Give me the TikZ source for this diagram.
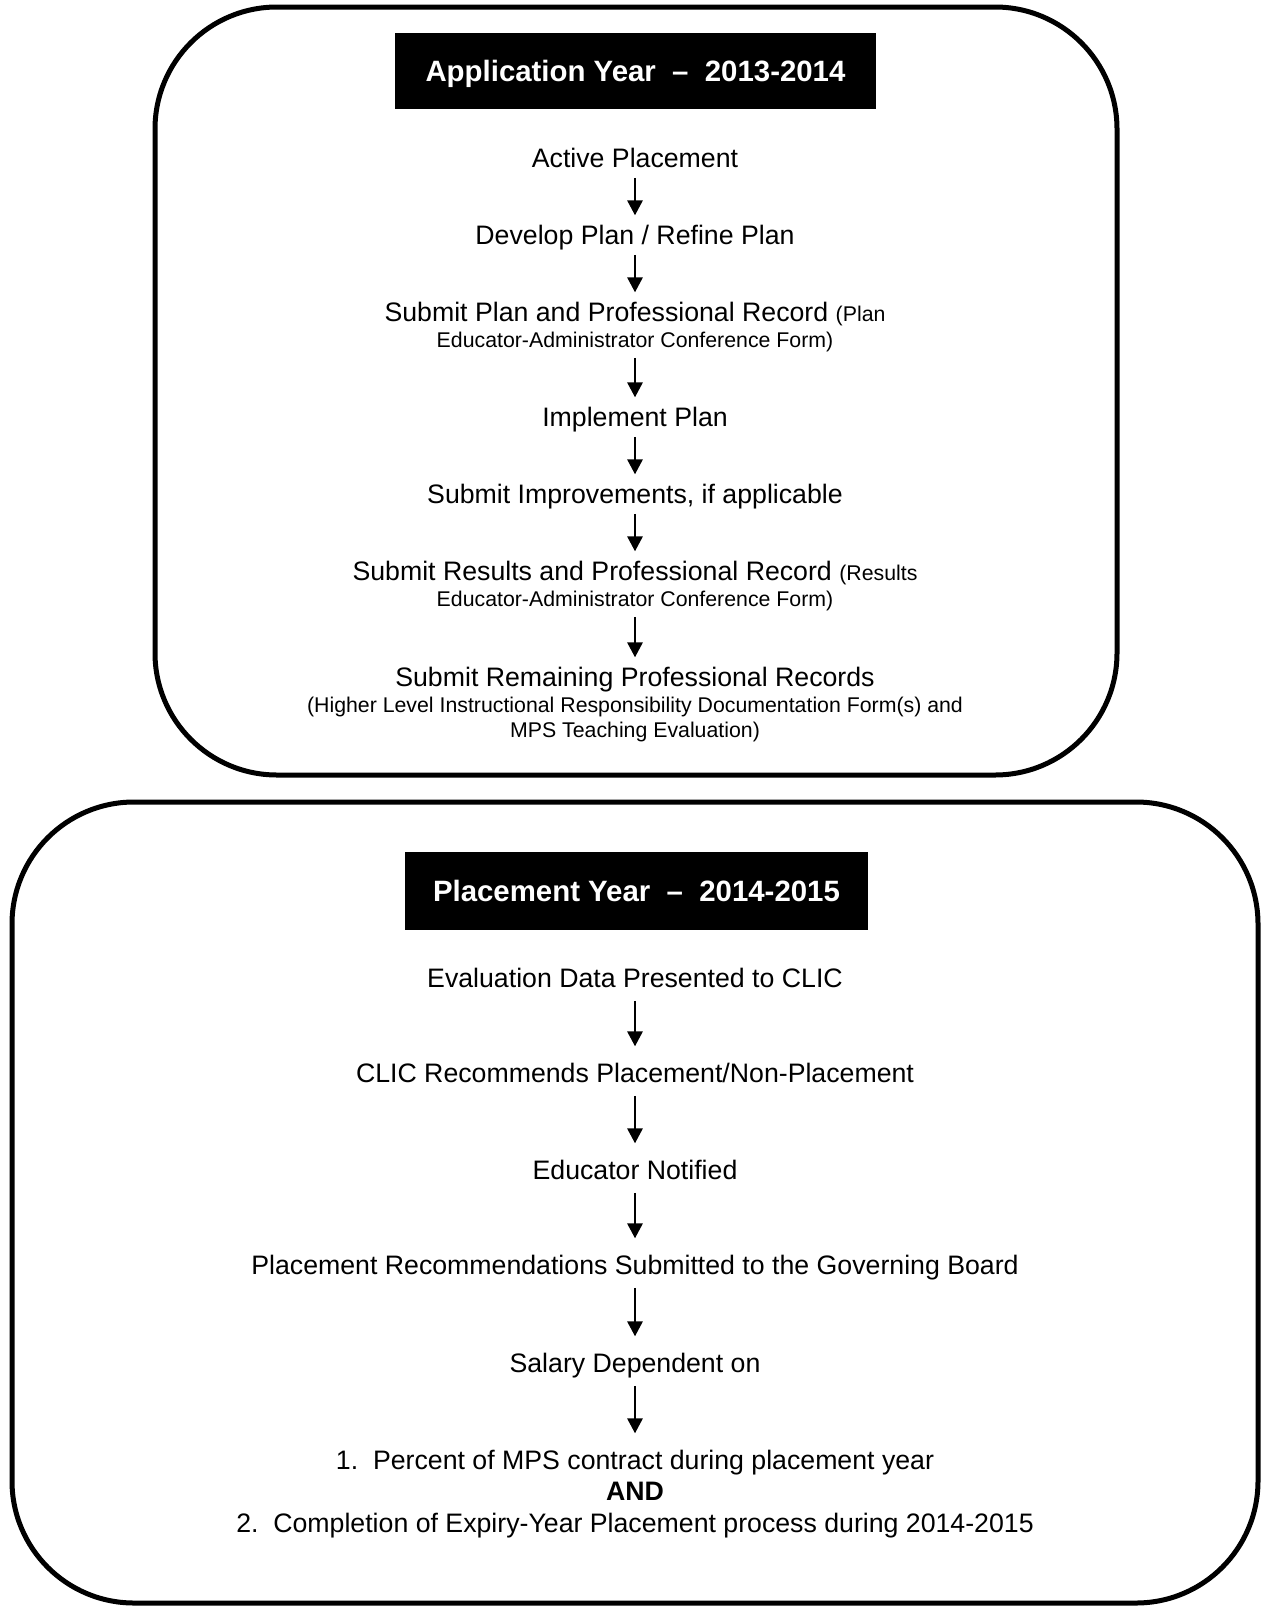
\documentclass[tikz,border=0pt]{standalone}
\usepackage{fontspec}
\setmainfont{Liberation Sans}
\usetikzlibrary{arrows.meta}
\tikzset{
  container/.style={line width=5pt, rounded corners=122pt},
  titlebox/.style={fill=black, text=white, inner sep=0pt, minimum width=481pt, minimum height=76pt,
    text height=21pt, text depth=0pt, font=\fontsize{29.4}{34}\selectfont\bfseries},
  bodytxt/.style={inner sep=0pt, text height=19.1pt, text depth=0pt, font=\fontsize{26.7}{32}\selectfont},
  smalltxt/.style={inner sep=0pt, text height=15.25pt, text depth=0pt, font=\fontsize{21.3}{25}\selectfont},
  flowarrow/.style={line width=1.8pt, -{Triangle[length=15pt,width=15.5pt]}},
  toparrow/.style={flowarrow, shorten <=10pt, shorten >=10pt},
  botarrow/.style={flowarrow, shorten <=13pt, shorten >=17pt},
}
\newcommand{\smalltext}[1]{{\fontsize{21.3}{25}\selectfont #1}}
\begin{document}
\begin{tikzpicture}[x=1pt,y=-1pt]
\fill[white] (0,0) rectangle (1263,1606);
\useasboundingbox (0,0) rectangle (1263,1606);

% containers
\draw[container] (155,7) rectangle (1117,775);
\draw[container] (12,802) rectangle (1258,1603);

% application year
\node[titlebox, minimum width=481pt] (t1) at (635.5,71) {Application Year~~–~~2013-2014};
\node[bodytxt] (a1) at (635,158) {Active Placement};
\node[bodytxt] (a2) at (635,235) {Develop Plan / Refine Plan};
\node[bodytxt] (a3) at (635,312) {Submit Plan and Professional Record \smalltext{(Plan}};
\node[smalltxt] (a3b) at (635,340) {Educator-Administrator Conference Form)};
\node[bodytxt] (a4) at (635,417) {Implement Plan};
\node[bodytxt] (a5) at (635,494) {Submit Improvements, if applicable};
\node[bodytxt] (a6) at (635,571) {Submit Results and Professional Record \smalltext{(Results}};
\node[smalltxt] (a6b) at (635,599) {Educator-Administrator Conference Form)};
\node[bodytxt] (a7) at (635,677) {Submit Remaining Professional Records};
\node[smalltxt] (a7b) at (635,705) {(Higher Level Instructional Responsibility Documentation Form(s) and};
\node[smalltxt] (a7c) at (635,730) {MPS Teaching Evaluation)};

\draw[toparrow] (a1.south) -- (a2.north);
\draw[toparrow] (a2.south) -- (a3.north);
\draw[toparrow] (a3b.south) -- (a4.north);
\draw[toparrow] (a4.south) -- (a5.north);
\draw[toparrow] (a5.south) -- (a6.north);
\draw[toparrow] (a6b.south) -- (a7.north);

% placement year
\node[titlebox, minimum width=463pt, minimum height=78pt] (t2) at (636.5,891) {Placement Year~~–~~2014-2015};
\node[bodytxt] (b1) at (635,978) {Evaluation Data Presented to CLIC};
\node[bodytxt] (b2) at (635,1073) {CLIC Recommends Placement/Non-Placement};
\node[bodytxt] (b3) at (635,1170) {Educator Notified};
\node[bodytxt] (b4) at (635,1265) {Placement Recommendations Submitted to the Governing Board};
\node[bodytxt] (b5) at (635,1363) {Salary Dependent on};
\node[bodytxt] (b6) at (635,1460) {1.~~Percent of MPS contract during placement year};
\node[bodytxt, font=\fontsize{26.7}{32}\selectfont\bfseries] (b7) at (635,1491) {AND};
\node[bodytxt] (b8) at (635,1523) {2.~~Completion of Expiry-Year Placement process during 2014-2015};

\draw[botarrow] (b1.south) -- (b2.north);
\draw[botarrow] (b2.south) -- (b3.north);
\draw[botarrow] (b3.south) -- (b4.north);
\draw[botarrow] (b4.south) -- (b5.north);
\draw[botarrow] (b5.south) -- (b6.north);
\end{tikzpicture}
\end{document}
